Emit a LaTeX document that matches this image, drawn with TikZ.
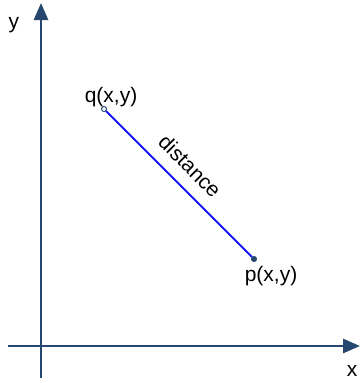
\documentclass[tikz,border=0pt]{standalone}
\usepackage{fontspec}
\setmainfont{Liberation Sans}
\usetikzlibrary{arrows.meta,positioning}

\definecolor{axisblue}{RGB}{38,72,110}
\definecolor{lineblue}{RGB}{20,20,240}

\begin{document}
\begin{tikzpicture}[x=1pt, y=-1pt, every node/.style={font=\fontsize{21}{24}\selectfont, inner sep=0pt},
    axis/.style={draw=axisblue, line width=2.8pt, -{Triangle[length=17pt, width=14pt]}},
    dot/.style={circle, draw=axisblue, line width=1pt, minimum size=5pt, inner sep=0pt},
    >=stealth]

    \useasboundingbox (0,0) rectangle (361,383);

    % axes
    \coordinate (ybot) at (41,378);
    \coordinate (ytop) at (41,3);
    \coordinate (xleft) at (8,346);
    \coordinate (xright) at (360,346);
    \draw[axis] (xleft) -- (xright);
    \draw[axis] (ybot) -- (ytop);
    \node (ylab) at (14,25) {y};
    \node (xlab) at (352,371) {x};

    % points
    \node[dot, fill=white] (q) at (104,109) {};
    \node[dot, fill=axisblue] (p) at (254,259) {};
    \draw[lineblue, line width=1.8pt] (q) -- (p);
    \node (qlab) at (111,97) {q(x,y)};
    \node (plab) at (271,276) {p(x,y)};
    \node[rotate=-45] (dist) at (190,166) {distance};
\end{tikzpicture}
\end{document}
